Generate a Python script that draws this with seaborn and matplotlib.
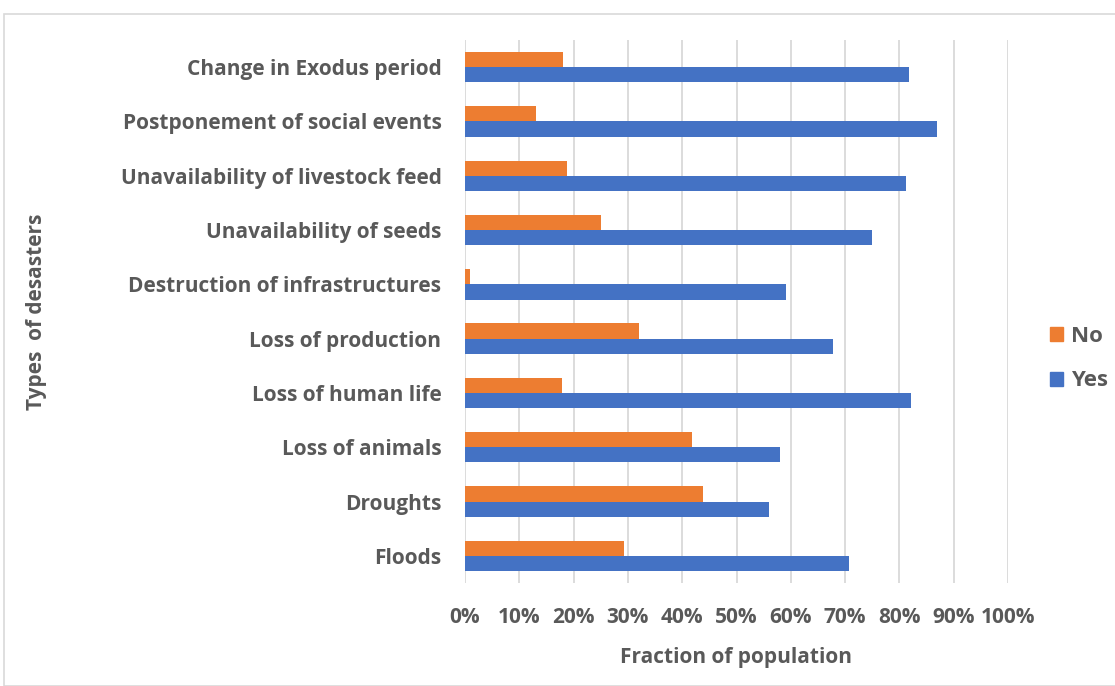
import matplotlib
matplotlib.use("Agg")
import matplotlib.pyplot as plt
import seaborn as sns
import pandas as pd
from matplotlib.patches import Rectangle
from matplotlib.ticker import PercentFormatter

categories = ["Change in Exodus period", "Postponement of social events",
              "Unavailability of livestock feed", "Unavailability of seeds",
              "Destruction of infrastructures", "Loss of production",
              "Loss of human life", "Loss of animals", "Droughts", "Floods"]
no_vals = [18.1, 13.0, 18.7, 25.0, 0.9, 32.0, 17.9, 41.8, 43.9, 29.2]
yes_vals = [81.8, 86.9, 81.2, 74.9, 59.1, 67.8, 82.2, 58.1, 55.9, 70.7]
series = ["No", "Yes"]
colors = {"No": "#ED7D31", "Yes": "#4472C4"}
xticks = [0, 10, 20, 30, 40, 50, 60, 70, 80, 90, 100]

df = pd.DataFrame({
    "category": categories * 2,
    "value": no_vals + yes_vals,
    "answer": ["No"] * len(categories) + ["Yes"] * len(categories),
})

sns.set_theme(style="white")
plt.rcParams['font.family'] = ['Open Sans', 'DejaVu Sans']
txt = "#595959"
fs = 15

fig = plt.figure(figsize=(11.15, 6.86), dpi=100)
ax = fig.add_axes([465/1115, 1 - 583/686, (1008-465)/1115, (583-40)/686])

sns.barplot(data=df, y="category", x="value", hue="answer", hue_order=series,
            order=categories, palette=colors, orient="h", width=0.56, gap=0,
            ax=ax, legend=False, saturation=1, edgecolor="none")

ax.set_xlim(0, 100)
ax.set_xticks(xticks)
ax.xaxis.set_major_formatter(PercentFormatter(decimals=0))
ax.grid(axis="x", color="#D9D9D9", linewidth=1.3)
ax.set_axisbelow(True)
for s in ax.spines.values():
    s.set_visible(False)
ax.tick_params(axis="both", length=0)
ax.tick_params(axis="x", pad=17, labelsize=fs, labelcolor=txt)
ax.tick_params(axis="y", pad=17, labelsize=fs, labelcolor=txt)
for lab in ax.get_yticklabels() + ax.get_xticklabels():
    lab.set_fontweight("bold")
ax.set_ylabel("Types  of desasters", fontsize=fs, color=txt, fontweight="bold")
ax.set_xlabel("Fraction of population", fontsize=fs, color=txt, fontweight="bold")
ax.yaxis.set_label_coords(-418/543, 0.5)
ax.xaxis.set_label_coords(0.5, -64/543)

handles = [Rectangle((0, 0), 1, 1, color=colors[s]) for s in series]
leg = ax.legend(handles, series, loc="center left", bbox_to_anchor=(1.077, 0.413),
                frameon=False, fontsize=16, handlelength=0.6, handleheight=0.6,
                handletextpad=0.35, labelspacing=1.05, borderaxespad=0, borderpad=0)
for t in leg.get_texts():
    t.set_color(txt)
    t.set_fontweight("bold")

fig.patches.append(Rectangle((4/1115, 0), 1.0, 1 - 14/686, transform=fig.transFigure,
                             fill=False, edgecolor="#D9D9D9", linewidth=1.2))

fig.savefig("out.png", dpi=100)
